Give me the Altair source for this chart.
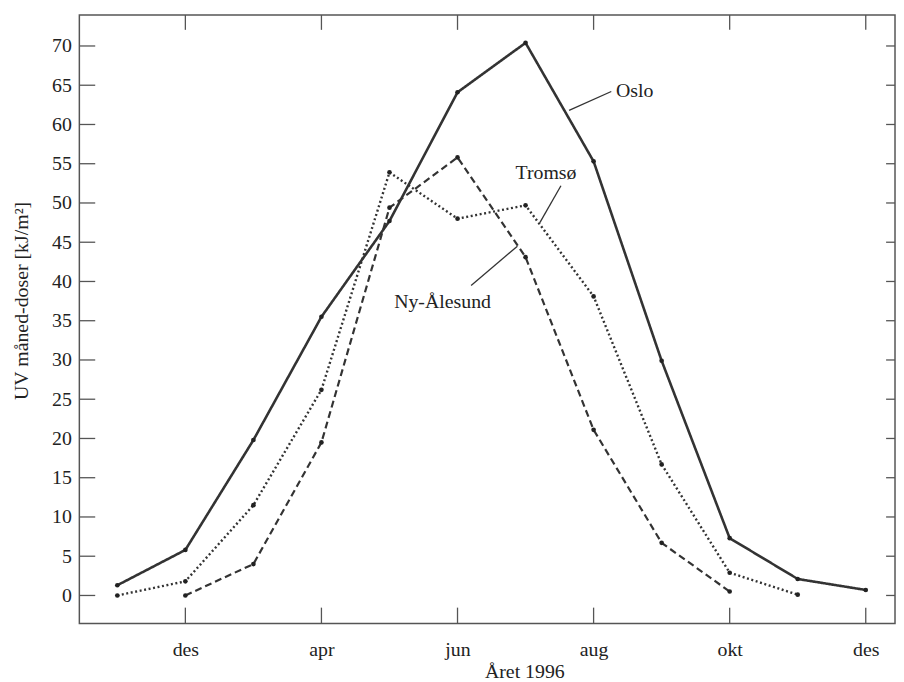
import altair as alt
import pandas as pd

# month index 0..11 (labels shown at odd indices)
months = list(range(12))
tick_idx = [1, 3, 5, 7, 9, 11]
tick_labels = ["des", "apr", "jun", "aug", "okt", "des"]
y_ticks = list(range(0, 75, 5))

oslo = [1.3, 5.8, 19.8, 35.5, 47.7, 64.1, 70.4, 55.3, 29.9, 7.3, 2.1, 0.7]
tromso = [0.0, 1.8, 11.5, 26.2, 53.9, 48.0, 49.7, 38.1, 16.7, 2.9, 0.1, None]
nyalesund = [None, 0.0, 4.0, 19.5, 49.4, 55.8, 43.1, 21.1, 6.7, 0.5, None, None]

stations = ["Oslo", "Tromsø", "Ny-Ålesund"]

# annotation labels (data units) and leader lines
ann_text = ["Oslo", "Tromsø", "Ny-Ålesund"]
ann_x = [7.33, 6.30, 4.78]
ann_y = [64.3, 53.8, 37.4]
ann_align = ["left", "center", "center"]
lead_x = [7.26, 6.52, 5.20]
lead_y = [64.2, 52.2, 39.5]
lead_x2 = [6.64, 6.21, 5.88]
lead_y2 = [61.8, 47.5, 44.5]

W, H = 823, 614
XDOM = [-0.558, 11.43]
YDOM = [-3.57, 73.95]
FONT = "Liberation Serif"
INK = "#333333"

rows = []
for name, vals in zip(stations, [oslo, tromso, nyalesund]):
    for m, v in zip(months, vals):
        if v is not None:
            rows.append({"station": name, "i": m, "v": v})
df = pd.DataFrame(rows)

lbl_map = "{" + ",".join(f"'{i}':'{l}'" for i, l in zip(tick_idx, tick_labels)) + "}"

xs = alt.Scale(domain=XDOM, nice=False, zero=False)
ys = alt.Scale(domain=YDOM, nice=False, zero=False)

x_axis = alt.Axis(values=tick_idx, labelExpr=f"{lbl_map}[datum.value]",
                  domain=False, ticks=False, grid=False, labelPadding=16,
                  labelBaseline="top", title="Året 1996", titleX=449, titleY=55,
                  titleBaseline="alphabetic", titleAlign="center", titleAnchor="start")
y_axis = alt.Axis(values=y_ticks, domain=False, ticks=False, grid=False,
                  labelPadding=8, title="UV måned-doser [kJ/m²]", titleX=-52, titleY=288,
                  titleAngle=-90, titleBaseline="alphabetic", titleAlign="center", titleAnchor="start")

dash_scale = alt.Scale(domain=stations, range=[[1, 0], [2, 2.6], [7, 4]])
width_scale = alt.Scale(domain=stations, range=[2.6, 2.2, 2.1])

lines = alt.Chart(df).mark_line(color=INK).encode(
    x=alt.X("i:Q", scale=xs, axis=x_axis),
    y=alt.Y("v:Q", scale=ys, axis=y_axis),
    strokeDash=alt.StrokeDash("station:N", scale=dash_scale, legend=None),
    strokeWidth=alt.StrokeWidth("station:N", scale=width_scale, legend=None),
    detail="station:N",
)
points = alt.Chart(df).mark_circle(color="#222222", size=22, opacity=1).encode(
    x=alt.X("i:Q", scale=xs), y=alt.Y("v:Q", scale=ys)
)

ydf = pd.DataFrame({"y": y_ticks})
xdf = pd.DataFrame({"x": tick_idx})
tick_col = "#555555"
yl = alt.Chart(ydf).mark_rule(color=tick_col, strokeWidth=1.3).encode(
    y=alt.Y("y:Q", scale=ys), x=alt.value(0), x2=alt.value(16))
yr = alt.Chart(ydf).mark_rule(color=tick_col, strokeWidth=1.3).encode(
    y=alt.Y("y:Q", scale=ys), x=alt.value(W - 9), x2=alt.value(W))
xt = alt.Chart(xdf).mark_rule(color=tick_col, strokeWidth=1.3).encode(
    x=alt.X("x:Q", scale=xs), y=alt.value(0), y2=alt.value(15))
xb = alt.Chart(xdf).mark_rule(color=tick_col, strokeWidth=1.3).encode(
    x=alt.X("x:Q", scale=xs), y=alt.value(H - 16), y2=alt.value(H))

adf = pd.DataFrame({"t": ann_text, "x": ann_x, "y": ann_y, "a": ann_align,
                    "lx": lead_x, "ly": lead_y, "lx2": lead_x2, "ly2": lead_y2})
leaders = alt.Chart(adf).mark_rule(color=INK, strokeWidth=1.3).encode(
    x=alt.X("lx:Q", scale=xs), y=alt.Y("ly:Q", scale=ys),
    x2="lx2:Q", y2="ly2:Q")
txt_left = alt.Chart(adf[adf.a == "left"]).mark_text(
    font=FONT, fontSize=20, color="#222222", align="left", baseline="middle").encode(
    x=alt.X("x:Q", scale=xs), y=alt.Y("y:Q", scale=ys), text="t:N")
txt_center = alt.Chart(adf[adf.a == "center"]).mark_text(
    font=FONT, fontSize=20, color="#222222", align="center", baseline="middle").encode(
    x=alt.X("x:Q", scale=xs), y=alt.Y("y:Q", scale=ys), text="t:N")

chart = alt.layer(lines, points, yl, yr, xt, xb, leaders, txt_left, txt_center).properties(
    width=W, height=H,
    autosize=alt.AutoSizeParams(type="none"),
    padding={"left": 72, "top": 4, "right": 1, "bottom": 56},
    background="white",
).configure_view(stroke="#555555", strokeWidth=1.5).configure_axis(
    labelFont=FONT, labelFontSize=20, labelColor="#222222",
    titleFont=FONT, titleFontSize=20, titleColor="#222222", titleFontWeight="normal",
)

chart.save("out.html", embed_options={"renderer": "svg", "actions": False})
